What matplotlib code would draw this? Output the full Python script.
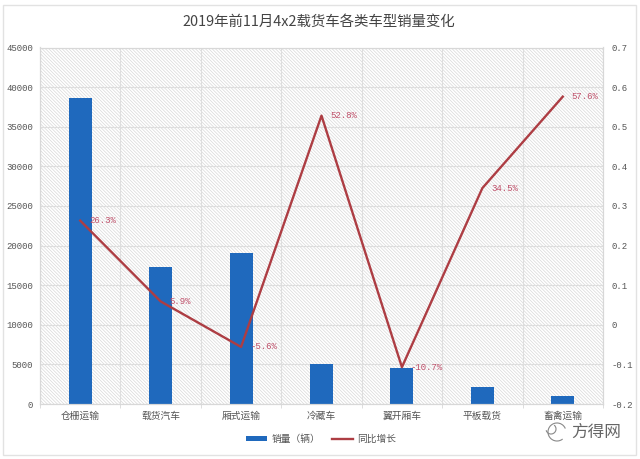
from matplotlib import pyplot as plt
from matplotlib.patches import Rectangle, Arc

plt.rcParams['font.family'] = ['Noto Sans CJK SC', 'DejaVu Sans']
plt.rcParams['hatch.color'] = '#d8d8d8'
plt.rcParams['hatch.linewidth'] = 0.5

categories = ['仓栅运输', '载货汽车', '厢式运输', '冷藏车', '翼开厢车', '平板载货', '畜禽运输']
sales = [38600, 17300, 19100, 5000, 4600, 2100, 1000]
growth = [0.263, 0.059, -0.056, 0.528, -0.107, 0.345, 0.576]
growth_labels = ['26.3%', '5.9%', '-5.6%', '52.8%', '-10.7%', '34.5%', '57.6%']
left_ticks = [0, 5000, 10000, 15000, 20000, 25000, 30000, 35000, 40000, 45000]
right_ticks = [-0.2, -0.1, 0, 0.1, 0.2, 0.3, 0.4, 0.5, 0.6, 0.7]
right_labels = ['-0.2', '-0.1', '0', '0.1', '0.2', '0.3', '0.4', '0.5', '0.6', '0.7']


def draw_chart():
    """
    :return: 柱状图加折线图, 双纵轴
    """
    fig = plt.figure(figsize=(6.4, 4.59), dpi=100, facecolor='white')
    ax1 = fig.add_axes([40 / 640, 1 - 404 / 459, 563 / 640, 356.5 / 459])

    # 背景斜线
    ax1.patch.set_facecolor('white')
    ax1.patch.set_hatch('\\\\\\\\\\\\\\\\\\\\')
    ax1.patch.set_edgecolor('#d8d8d8')
    ax1.set_axisbelow(True)

    bars = ax1.bar(range(7), sales, 0.285, color='#1f69bd', label='销量（辆）')
    ax1.set_xlim(-0.5, 6.5)
    ax1.set_ylim(0, 45000)
    ax1.set_yticks(left_ticks)
    ax1.set_xticks(range(7))
    ax1.set_xticklabels(categories)
    ax1.set_xticks([i + 0.5 for i in range(-1, 7)], minor=True)
    ax1.tick_params(axis='x', which='major', length=0, pad=5, labelsize=7, colors='#555555')
    ax1.tick_params(axis='x', which='minor', length=3, color='#d8d8d8')
    ax1.tick_params(axis='y', length=0, pad=5, labelsize=6.5, colors='#555555')
    ax1.grid(axis='y', color='#dedede', linewidth=0.8)
    ax1.grid(axis='x', which='minor', color='#dedede', linewidth=0.8)
    for label in ax1.get_yticklabels():
        label.set_family('Liberation Mono')

    ax2 = plt.twinx(ax1)
    line, = ax2.plot(range(7), growth, color='#ad3d43', linewidth=1.7, label='同比增长')
    ax2.set_ylim(-0.2, 0.7)
    ax2.set_yticks(right_ticks)
    ax2.set_yticklabels(right_labels)
    ax2.tick_params(axis='y', length=0, pad=6, labelsize=6.5, colors='#555555')
    for label in ax2.get_yticklabels():
        label.set_family('Liberation Mono')

    for i in range(7):
        ax2.annotate(growth_labels[i], (i, growth[i]), xytext=(6.5, 0), textcoords='offset points',
                     va='center', fontsize=6.5, color='#c0506a', family='Liberation Mono')

    for ax in [ax1, ax2]:
        for spine in ax.spines.values():
            spine.set_color('#d8d8d8')
            spine.set_linewidth(0.8)

    fig.text(319 / 640, 1 - 22 / 459, '2019年前11月4x2载货车各类车型销量变化', ha='center', va='center',
             fontsize=10.4, color='#444444')
    fig.legend([bars, line], ['销量（辆）', '同比增长'], loc='center', bbox_to_anchor=(321 / 640, 1 - 439 / 459),
               ncol=2, frameon=False, fontsize=7, labelcolor='#555555', handlelength=2.2,
               handleheight=0.3, columnspacing=1.2, handletextpad=0.4)

    # 水印和外框
    fig.text(596 / 640, 1 - 432 / 459, '方得网', ha='center', va='center', fontsize=12, color='#666666')
    fig.add_artist(Arc((557 / 640, 1 - 432 / 459), 18 / 640, 18 / 459, theta1=30, theta2=300,
                       transform=fig.transFigure, color='#888888', linewidth=0.8))
    fig.add_artist(Arc((551 / 640, 1 - 429 / 459), 10 / 640, 10 / 459, theta1=200, theta2=60,
                       transform=fig.transFigure, color='#888888', linewidth=0.8))
    fig.add_artist(Rectangle((3 / 640, 4 / 459), 633 / 640, 450 / 459, transform=fig.transFigure,
                             fill=False, edgecolor='#e2e2e2', linewidth=1))
    fig.savefig('out.png', dpi=100)


if __name__ == '__main__':
    draw_chart()
